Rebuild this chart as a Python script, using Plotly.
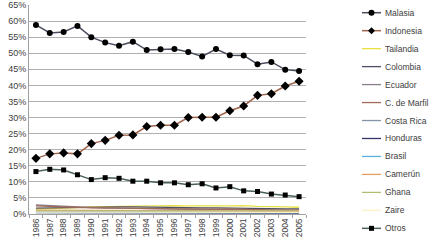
import plotly.graph_objects as go

years = [str(y) for y in range(1986, 2006)]

malasia = [58.8, 56.3, 56.6, 58.5, 55.0, 53.3, 52.3, 53.6, 51.0, 51.2, 51.3, 50.4, 49.0, 51.3, 49.4, 49.3, 46.6, 47.3, 44.9, 44.5]
indonesia = [17.3, 18.7, 19.0, 18.7, 21.9, 22.9, 24.5, 24.6, 27.2, 27.6, 27.6, 30.0, 30.1, 30.1, 32.1, 33.6, 36.9, 37.4, 39.8, 41.3]
tailandia = [1.5, 1.6, 1.8, 2.0, 2.2, 2.3, 2.3, 2.4, 2.5, 2.5, 2.6, 2.5, 2.4, 2.5, 2.5, 2.6, 2.4, 2.2, 2.2, 2.1]
colombia = [1.8, 1.9, 1.9, 2.0, 2.1, 2.1, 2.2, 2.2, 2.1, 2.0, 2.0, 1.9, 1.9, 1.9, 1.8, 1.8, 1.7, 1.7, 1.6, 1.6]
ecuador = [2.8, 2.6, 2.2, 2.0, 1.9, 1.8, 1.8, 1.7, 1.6, 1.6, 1.5, 1.5, 1.4, 1.4, 1.4, 1.3, 1.3, 1.3, 1.2, 1.2]
c_marfil = [2.5, 2.3, 2.1, 2.0, 1.9, 1.9, 1.8, 1.8, 1.7, 1.7, 1.6, 1.6, 1.5, 1.5, 1.6, 1.4, 1.3, 1.2, 1.2, 1.2]
costa_rica = [0.7, 0.7, 0.7, 0.8, 0.8, 0.8, 0.8, 0.8, 0.8, 0.8, 0.8, 0.7, 0.7, 0.7, 0.7, 0.7, 0.6, 0.6, 0.6, 0.6]
honduras = [0.4, 0.4, 0.4, 0.4, 0.4, 0.4, 0.4, 0.4, 0.4, 0.4, 0.4, 0.4, 0.4, 0.3, 0.3, 0.3, 0.3, 0.3, 0.3, 0.3]
brasil = [0.5, 0.5, 0.5, 0.5, 0.5, 0.5, 0.5, 0.5, 0.5, 0.5, 0.5, 0.5, 0.5, 0.5, 0.4, 0.4, 0.4, 0.4, 0.4, 0.4]
camerun = [1.2, 1.2, 1.2, 1.2, 1.2, 1.1, 1.1, 1.1, 1.1, 1.1, 1.0, 1.0, 1.0, 1.0, 1.0, 0.9, 0.9, 0.9, 0.9, 0.9]
ghana = [1.0, 1.0, 1.0, 1.0, 1.0, 1.0, 1.0, 1.0, 1.0, 1.0, 1.0, 1.0, 1.0, 1.0, 1.0, 1.0, 1.0, 1.0, 1.0, 1.0]
zaire = [0.6, 0.6, 0.6, 0.6, 0.6, 0.6, 0.6, 0.6, 0.5, 0.5, 0.5, 0.5, 0.5, 0.5, 0.5, 0.5, 0.5, 0.5, 0.5, 0.5]
otros = [13.2, 13.9, 13.7, 12.2, 10.7, 11.3, 11.1, 10.2, 10.2, 9.7, 9.7, 9.1, 9.4, 8.1, 8.5, 7.2, 7.0, 6.2, 5.9, 5.4]

series = [
    ("Malasia", malasia, "#4a4e5e", "circle"),
    ("Indonesia", indonesia, "#a0654f", "diamond"),
    ("Tailandia", tailandia, "#e8e040", None),
    ("Colombia", colombia, "#505064", None),
    ("Ecuador", ecuador, "#8a7e8c", None),
    ("C. de Marfil", c_marfil, "#a06a56", None),
    ("Costa Rica", costa_rica, "#8494a8", None),
    ("Honduras", honduras, "#343468", None),
    ("Brasil", brasil, "#5ab0dc", None),
    ("Camerún", camerun, "#e4a060", None),
    ("Ghana", ghana, "#b4bc74", None),
    ("Zaire", zaire, "#fcf0c4", None),
    ("Otros", otros, "#4a6058", "square"),
]

msize = {"circle": 6, "diamond": 7, "square": 5}

fig = go.Figure()
for name, vals, col, sym in series:
    fig.add_trace(go.Scatter(
        x=years, y=[v / 100 for v in vals], name=name,
        mode="lines+markers" if sym else "lines",
        line=dict(color=col, width=1.5 if sym else 1.3),
        marker=dict(symbol=sym, size=msize[sym], color="black") if sym else None,
        showlegend=False,
    ))

# manual legend (plotly's minimum legend row height is too tall for 13 rows)
L, R, T, B = 29, 306, 5, 214
W, H = R - L, B - T
def px(x):
    return (x - L) / W
def py(y):
    return (B - y) / H

shapes = []
annotations = []
for i, (name, vals, col, sym) in enumerate(series):
    yy = 12.7 + i * 17.97
    shapes.append(dict(type="line", xref="paper", yref="paper",
                       x0=px(362), x1=px(381), y0=py(yy), y1=py(yy),
                       line=dict(color=col, width=1.3 if not sym else 1.5)))
    if sym:
        cx = 371.5
        if sym == "circle":
            r = 3
            shapes.append(dict(type="circle", xref="paper", yref="paper",
                               x0=px(cx - r), x1=px(cx + r), y0=py(yy + r), y1=py(yy - r),
                               fillcolor="black", line=dict(color="black", width=0)))
        elif sym == "square":
            r = 2.5
            shapes.append(dict(type="rect", xref="paper", yref="paper",
                               x0=px(cx - r), x1=px(cx + r), y0=py(yy + r), y1=py(yy - r),
                               fillcolor="black", line=dict(color="black", width=0)))
        else:
            r = 3.5
            path = "M {} {} L {} {} L {} {} L {} {} Z".format(
                px(cx), py(yy - r), px(cx + r), py(yy), px(cx), py(yy + r), px(cx - r), py(yy))
            shapes.append(dict(type="path", xref="paper", yref="paper", path=path,
                               fillcolor="black", line=dict(color="black", width=0)))
    annotations.append(dict(xref="paper", yref="paper", x=px(382.5), y=py(yy),
                            xanchor="left", yanchor="middle", text=name, showarrow=False,
                            font=dict(size=8.5, color="#404040")))

fig.update_layout(
    width=429, height=241,
    margin=dict(l=L, r=429 - R, t=T, b=241 - B),
    paper_bgcolor="white", plot_bgcolor="white",
    font=dict(family="Liberation Sans, Arial", size=9, color="#404040"),
    showlegend=False,
    shapes=shapes, annotations=annotations,
)
fig.update_yaxes(range=[0, 0.65], dtick=0.05, tickformat=".0%",
                 showgrid=True, gridcolor="#b0b0b0", gridwidth=1,
                 showline=True, linecolor="#a0a0a0", zeroline=False,
                 ticks="", tickfont=dict(size=9), automargin=False)
fig.update_xaxes(type="category", range=[-0.5, len(years) - 0.5], tickangle=-90, showgrid=False,
                 showline=True, linecolor="#a0a0a0",
                 ticks="outside", tickson="boundaries", ticklen=3, tickcolor="#a0a0a0",
                 tickfont=dict(size=8.5), automargin=False)

fig.write_html("out.html", config={"displayModeBar": False},
               post_script="document.body.style.margin='0';")
